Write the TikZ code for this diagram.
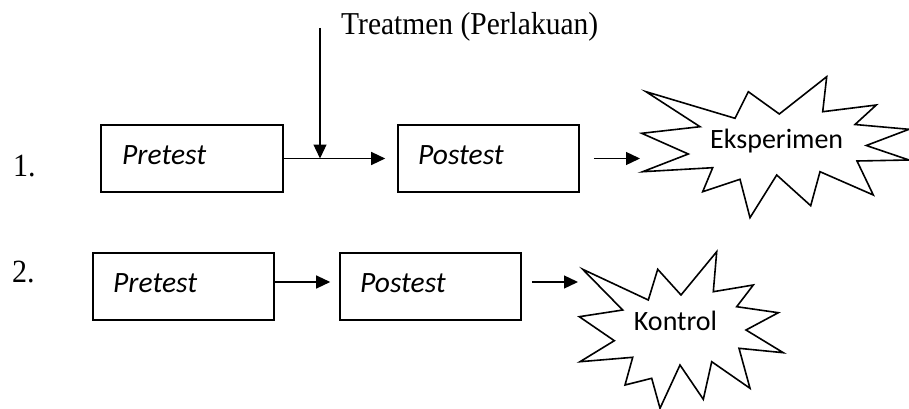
\documentclass[tikz,border=0pt]{standalone}
\usepackage{fontspec}
\setmainfont{Liberation Serif}
\newfontfamily\calfont{Carlito}
\usetikzlibrary{arrows.meta}
\begin{document}
\begin{tikzpicture}[x=1pt,y=-1pt,
  box/.style={draw,line width=1.6pt,inner sep=0pt},
  arr/.style={line width=1.3pt,-{Triangle[length=14pt,width=13pt]}},
  burst/.style={draw,line width=1.6pt,line join=miter},
  lbl/.style={font=\calfont\fontsize{29.5}{32}\selectfont\itshape,anchor=base west,inner sep=0pt},
  num/.style={font=\fontsize{30}{32}\selectfont,anchor=base west,inner sep=0pt},
  btxt/.style={font=\calfont\fontsize{28}{30}\selectfont,anchor=base,inner sep=0pt}]
\useasboundingbox (0,0) rectangle (909,409);

% boxes
\node[box,minimum width=182pt,minimum height=67pt] (pre1) at (192,158.5) {};
\node[box,minimum width=181pt,minimum height=67pt] (post1) at (488.5,158.5) {};
\node[box,minimum width=181pt,minimum height=67pt] (pre2) at (183.5,286.5) {};
\node[box,minimum width=181pt,minimum height=67pt] (post2) at (430.5,286.5) {};

\node[lbl] (tpre1) at (122,164) {Pretest};
\node[lbl] (tpost1) at (418,164) {Postest};
\node[lbl] (tpre2) at (113,292) {Pretest};
\node[lbl] (tpost2) at (360,292) {Postest};

% numbers and treatment label
\node[num] (n1) at (13,176) {\scalebox{1}[1.08]{1.}};
\node[num] (n2) at (12,282) {\scalebox{1}[1.08]{2.}};
\node[num,font=\fontsize{29.5}{32}\selectfont] (treat) at (341,35) {\scalebox{1}[1.08]{Treatmen (Perlakuan)}};

% starburst 1
\draw[burst] (646,91.7) -- (735,118.3) -- (748.3,91.7) -- (779.3,114) -- (826.7,76.7)
  -- (822.7,111.7) -- (876.3,105) -- (855,124.5) -- (909,129.3) -- (866.3,145.5)
  -- (909,160) -- (857,161) -- (873.3,195) -- (820,171.7) -- (810.7,205.7)
  -- (776.7,175) -- (750,217.7) -- (740,179.3) -- (702.7,191.7) -- (712.7,167.7)
  -- (642.7,171.7) -- (688.3,154) -- (641.7,133.3) -- (700,126.7) -- cycle;
\node[btxt] (eks) at (776.7,148) {Eksperimen};

% starburst 2
\draw[burst] (582.7,269.3) -- (648.3,300) -- (657.7,269.3) -- (681,295) -- (716.7,251.7)
  -- (713.3,291.7) -- (753.3,285) -- (736.7,306.7) -- (778.3,312.7) -- (746,330)
  -- (783.3,352.7) -- (739,348.3) -- (750,388.3) -- (711.7,361.7) -- (703.3,399.3)
  -- (680,365) -- (660,408.3) -- (651.7,378.3) -- (625,385) -- (632.7,357.3)
  -- (580,361.7) -- (614.3,340.7) -- (579.3,316.7) -- (622.7,310) -- cycle;
\node[btxt] (kon) at (675.5,330) {Kontrol};

% connectors
\coordinate (tstart) at (320,28);
\coordinate (b1in) at (640,158.5);
\coordinate (b2in) at (578,282);
\draw[arr] (pre1.east) -- ([xshift=-12pt]post1.west);
\draw[arr] (tstart) -- (tstart |- pre1.east);
\draw[arr] ([xshift=14pt]post1.east) -- (b1in);
\draw[arr] ([yshift=4.5pt]pre2.east) -- ([yshift=4.5pt,xshift=-9pt]post2.west);
\draw[arr] ([yshift=4.5pt,xshift=10pt]post2.east) -- (b2in);
\end{tikzpicture}
\end{document}
